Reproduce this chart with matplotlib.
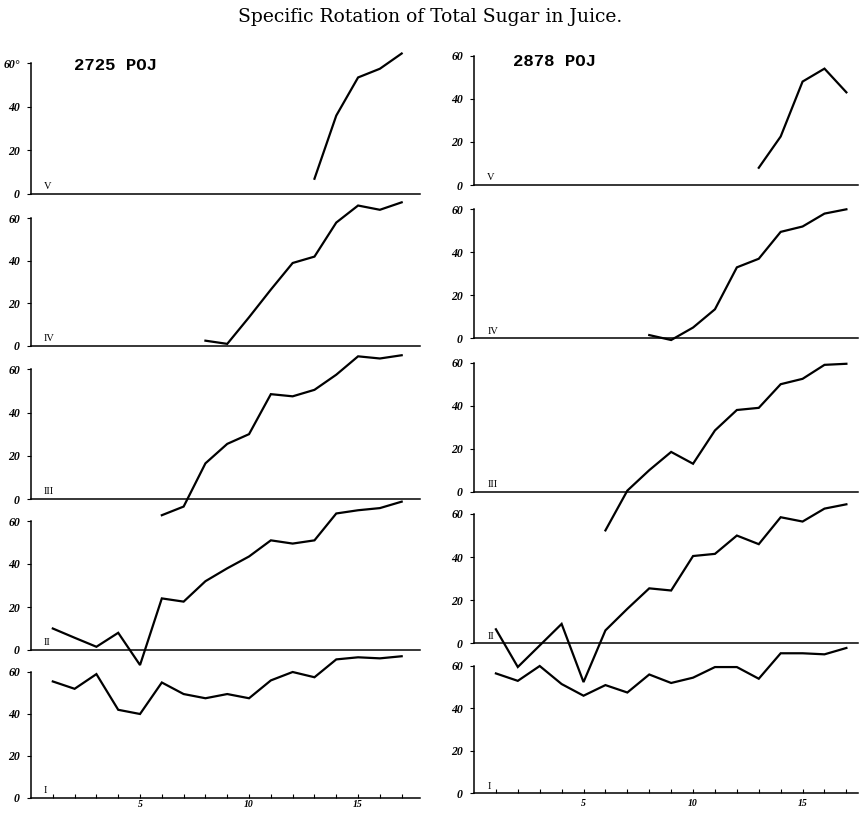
import matplotlib.pyplot as plt
import numpy as np

title = 'Specific Rotation of Total Sugar in Juice.'
varieties = ['2725 POJ', '2878 POJ']
panel_names = ['V', 'IV', 'III', 'II', 'I']
yticks = [0, 20, 40, 60]
xticks = [5, 10, 15]

# sampling numbers 1..17, each panel starts where readings begin
days_v = np.arange(13, 18)
days_iv = np.arange(8, 18)
days_iii = np.arange(6, 18)
days_all = np.arange(1, 18)

poj2725_v = [7, 36, 53.5, 57.5, 64.5]
poj2725_iv = [2.5, 1, 13.5, 26.5, 39, 42, 58, 66, 64, 67.5]
poj2725_iii = [-7.5, -3.5, 16.5, 25.5, 30, 48.5, 47.5, 50.5, 57.5, 66, 65, 66.5]
poj2725_ii = [10, 5.7, 1.5, 8, -7, 24, 22.5, 32, 38, 43.5, 51, 49.5, 51, 63.5, 65, 66, 69]
poj2725_i = [55.5, 52, 59, 42, 40, 55, 49.5, 47.5, 49.5, 47.5, 56, 60, 57.5, 66, 67, 66.5, 67.5]

poj2878_v = [8, 22.5, 48, 54, 43]
poj2878_iv = [1.5, -0.8, 5, 13.5, 33, 37, 49.5, 52, 58, 60]
poj2878_iii = [-18, 0.5, 10, 18.5, 13, 28.5, 38, 39, 50, 52.5, 59, 59.5]
poj2878_ii = [6.5, -11, -1, 9, -18, 6, 16, 25.5, 24.5, 40.5, 41.5, 50, 46, 58.5, 56.5, 62.5, 64.5]
poj2878_i = [56.5, 53, 60, 51.5, 46, 51, 47.5, 56, 52, 54.5, 59.5, 59.5, 54, 66, 66, 65.5, 68.5]

W, H = 860, 814
fig = plt.figure(figsize=(W / 100, H / 100), dpi=100)
fig.patch.set_facecolor('white')

serif = 'Liberation Serif'

fig.text(0.5, 1 - 17 / H, title, ha='center', va='center',
         fontsize=13.5, family='DejaVu Serif')

# pixel layout of each column: (left edge, right edge, x max) and zero/60 rows
columns = [
    dict(left=31, right=420, xmax=17.84,
         zero=[194, 346, 499, 650, 798], top=[63.3, 218.3, 369.3, 521, 672],
         series=[(days_v, poj2725_v), (days_iv, poj2725_iv), (days_iii, poj2725_iii),
                 (days_all, poj2725_ii), (days_all, poj2725_i)],
         name_xy=(74, 65)),
    dict(left=474, right=858, xmax=17.53,
         zero=[185, 338.3, 491.7, 643.3, 793.3], top=[55.7, 209.3, 362.7, 514, 666],
         series=[(days_v, poj2878_v), (days_iv, poj2878_iv), (days_iii, poj2878_iii),
                 (days_all, poj2878_ii), (days_all, poj2878_i)],
         name_xy=(513, 61)),
]

for ci, col in enumerate(columns):
    for pi, name in enumerate(panel_names):
        y0, y60 = col['zero'][pi], col['top'][pi]
        ax = fig.add_axes([col['left'] / W, 1 - y0 / H,
                           (col['right'] - col['left']) / W, (y0 - y60) / H])
        ax.set_facecolor('none')
        ax.set_xlim(0, col['xmax'])
        ax.set_ylim(0, 60)
        for s in ['top', 'right']:
            ax.spines[s].set_visible(False)
        ax.spines['left'].set_linewidth(1.1)
        ax.spines['bottom'].set_linewidth(1.1)

        x, y = col['series'][pi]
        ax.plot(x, y, color='black', lw=1.6, clip_on=False, solid_joinstyle='miter')

        ax.set_yticks(yticks)
        labels = [str(t) for t in yticks]
        if ci == 0 and pi == 0:
            labels[-1] = '60°'
        ax.set_yticklabels(labels, fontsize=8.5, family=serif, style='italic',
                           fontweight='bold')
        ax.tick_params(axis='y', direction='out', length=3, width=0.8, pad=5)

        if pi == len(panel_names) - 1:
            ax.set_xticks(np.arange(1, 18))
            ax.set_xticklabels([str(d) if d in xticks else '' for d in range(1, 18)],
                               fontsize=7, family=serif, style='italic',
                               fontweight='bold')
            ax.tick_params(axis='x', direction='in', length=3, width=0.8,
                           pad=1.5 if ci == 0 else 4)
        else:
            ax.set_xticks([])

        ax.text(0.6, 1.2, name, fontsize=7.5, family=serif, ha='left', va='bottom')

    nx, ny = col['name_xy']
    fig.text(nx / W, 1 - ny / H, varieties[ci], fontsize=12.5,
             family='Liberation Mono', fontweight='bold', ha='left', va='center')

fig.savefig('out.png', dpi=100, facecolor='white')
